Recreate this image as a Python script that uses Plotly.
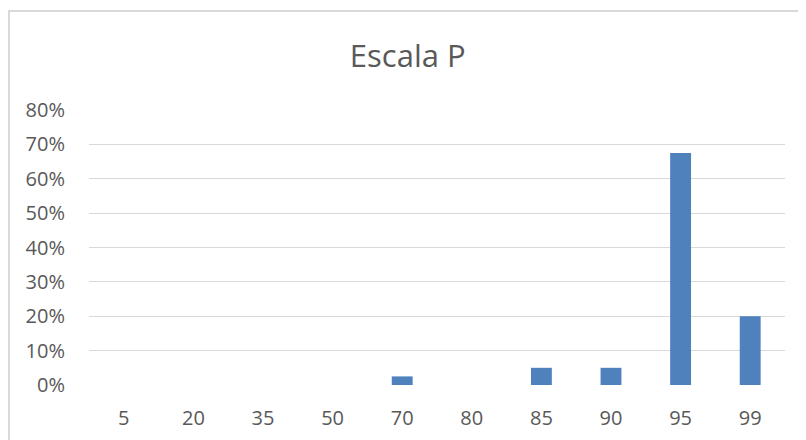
import plotly.graph_objects as go

categories = ["5", "20", "35", "50", "70", "80", "85", "90", "95", "99"]
values = [0, 0, 0, 0, 0.025, 0, 0.05, 0.05, 0.675, 0.20]
y_ticks = [0, 0.1, 0.2, 0.3, 0.4, 0.5, 0.6, 0.7, 0.8]
y_tick_labels = ["0%", "10%", "20%", "30%", "40%", "50%", "60%", "70%", "80%"]

fig = go.Figure(go.Bar(x=categories, y=values, marker=dict(color="#4F81BD", line=dict(width=0))))

L, R, T, B = 81, 29, 102, 63
W, H = 806, 440
pw, ph = W - L - R, H - T - B

fig.update_layout(
    width=W, height=H,
    margin=dict(l=L, r=R, t=T, b=B),
    paper_bgcolor="white", plot_bgcolor="white",
    font=dict(family="Open Sans", color="#595959", size=20),
    title=dict(text="Escala P", x=0.496, xref="container", xanchor="center",
               y=0.891, yref="container", yanchor="middle",
               font=dict(size=31, color="#595959")),
    bargap=0.7,
    showlegend=False,
)
fig.update_xaxes(type="category", showgrid=False, zeroline=False, showline=False,
                 ticks="", ticklabelstandoff=19, tickfont=dict(size=20, color="#595959"))
fig.update_yaxes(range=[0, 0.8], tickvals=y_ticks, ticktext=y_tick_labels,
                 showgrid=True, gridcolor="#D9D9D9", gridwidth=1, zeroline=False,
                 showline=False, ticks="", ticklabelstandoff=23,
                 tickfont=dict(size=20, color="#595959"))

fig.add_shape(type="rect", xref="paper", yref="paper",
              x0=(1 - L) / pw, x1=(W + 10 - L) / pw,
              y0=-(B + 20) / ph, y1=1 + (T - 3) / ph,
              line=dict(color="#D9D9D9", width=2), fillcolor="rgba(0,0,0,0)", layer="below")

fig.write_html("out.html")
